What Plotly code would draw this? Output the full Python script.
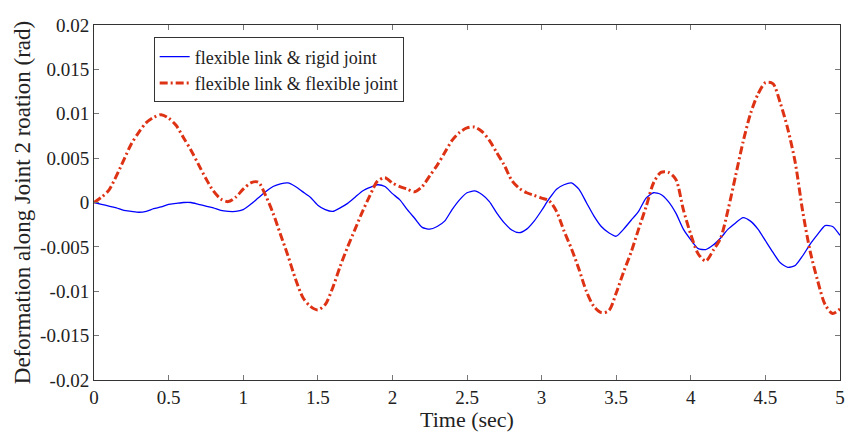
import plotly.graph_objects as go

# Time samples (sec)
t = [round(i * 0.05, 2) for i in range(101)]

rigid_joint = [
    0.0000, -0.0002, -0.0004, -0.0006, -0.0009, -0.0010, -0.0011, -0.0010, -0.0007, -0.0005,
    -0.0002, -0.0001, 0.0000, 0.0000, -0.0002, -0.0004, -0.0006, -0.0009, -0.0010, -0.0010,
    -0.0008, -0.0002, 0.0005, 0.0012, 0.0018, 0.0021, 0.0022, 0.0018, 0.0012, 0.0006,
    -0.0003, -0.0008, -0.0010, -0.0006, -0.0001, 0.0006, 0.0013, 0.0017, 0.0020, 0.0018,
    0.0010, 0.0003, -0.0008, -0.0018, -0.0028, -0.0030, -0.0027, -0.0021, -0.0008, 0.0003,
    0.0011, 0.0013, 0.0009, 0.0001, -0.0012, -0.0023, -0.0031, -0.0034, -0.0030, -0.0021,
    -0.0009, 0.0004, 0.0015, 0.0020, 0.0022, 0.0015, 0.0000, -0.0015, -0.0027, -0.0034,
    -0.0038, -0.0030, -0.0020, -0.0010, 0.0005, 0.0011, 0.0009, 0.0001, -0.0012, -0.0030,
    -0.0042, -0.0052, -0.0053, -0.0048, -0.0040, -0.0030, -0.0023, -0.0017, -0.0021, -0.0030,
    -0.0043, -0.0056, -0.0068, -0.0073, -0.0071, -0.0060, -0.0047, -0.0036, -0.0026, -0.0027,
    -0.0037,
]

flexible_joint = [
    0.0000, 0.0006, 0.0014, 0.0030, 0.0048, 0.0066, 0.0079, 0.0090, 0.0096, 0.0099,
    0.0095, 0.0087, 0.0073, 0.0059, 0.0043, 0.0027, 0.0013, 0.0004, 0.0001, 0.0006,
    0.0015, 0.0022, 0.0023, 0.0008, -0.0012, -0.0036, -0.0060, -0.0086, -0.0107, -0.0117,
    -0.0121, -0.0115, -0.0096, -0.0072, -0.0050, -0.0030, -0.0010, 0.0008, 0.0024, 0.0028,
    0.0022, 0.0018, 0.0015, 0.0012, 0.0018, 0.0030, 0.0042, 0.0056, 0.0070, 0.0079,
    0.0084, 0.0085, 0.0080, 0.0070, 0.0056, 0.0042, 0.0025, 0.0016, 0.0011, 0.0008,
    0.0005, 0.0002, -0.0010, -0.0032, -0.0052, -0.0075, -0.0100, -0.0117, -0.0124, -0.0122,
    -0.0102, -0.0078, -0.0056, -0.0030, -0.0005, 0.0022, 0.0034, 0.0034, 0.0026, -0.0008,
    -0.0036, -0.0058, -0.0066, -0.0054, -0.0040, -0.0008, 0.0030, 0.0068, 0.0100, 0.0122,
    0.0135, 0.0134, 0.0112, 0.0083, 0.0045, -0.0010, -0.0055, -0.0088, -0.0115, -0.0125,
    -0.0120,
]

x_ticks = [0, 0.5, 1, 1.5, 2, 2.5, 3, 3.5, 4, 4.5, 5]
x_tick_labels = ["0", "0.5", "1", "1.5", "2", "2.5", "3", "3.5", "4", "4.5", "5"]
y_ticks = [-0.02, -0.015, -0.01, -0.005, 0, 0.005, 0.01, 0.015, 0.02]
y_tick_labels = ["-0.02", "-0.015", "-0.01", "-0.005", "0", "0.005", "0.01", "0.015", "0.02"]

FONT = "Liberation Serif"

fig = go.Figure()
fig.add_trace(go.Scatter(
    x=t, y=rigid_joint, mode="lines", name="flexible link &amp; rigid joint",
    line=dict(color="rgb(0,0,255)", width=1.3, shape="spline", smoothing=0.6),
))
fig.add_trace(go.Scatter(
    x=t, y=flexible_joint, mode="lines", name="flexible link &amp; flexible joint",
    line=dict(color="rgb(222,50,20)", width=3, dash="8px,3px,2px,3px", shape="spline", smoothing=0.8),
))

axis_common = dict(
    showgrid=False, zeroline=False, showline=True, linecolor="#333", linewidth=1,
    mirror="ticks", ticks="inside", ticklen=5, tickcolor="#777",
    tickfont=dict(family=FONT, size=19, color="#222"),
)

fig.update_layout(
    width=850, height=432,
    margin=dict(l=94, r=5, t=25, b=51),
    paper_bgcolor="white", plot_bgcolor="white",
    font=dict(family=FONT, color="#222"),
    showlegend=True,
    legend=dict(
        x=0.08, y=0.965, xanchor="left", yanchor="top",
        bgcolor="white", bordercolor="#333", borderwidth=1,
        font=dict(family=FONT, size=18, color="#222"),
        tracegroupgap=0, itemwidth=30,
    ),
    xaxis=dict(
        range=[0, 5], tickvals=x_ticks, ticktext=x_tick_labels,
        title=dict(text="Time (sec)", font=dict(family=FONT, size=22), standoff=4),
        **axis_common,
    ),
    yaxis=dict(
        range=[-0.02, 0.02], tickvals=y_ticks, ticktext=y_tick_labels,
        title=dict(text="Deformation along Joint 2 roation (rad)", font=dict(family=FONT, size=23), standoff=3),
        **axis_common,
    ),
)

fig.write_html("out.html")
